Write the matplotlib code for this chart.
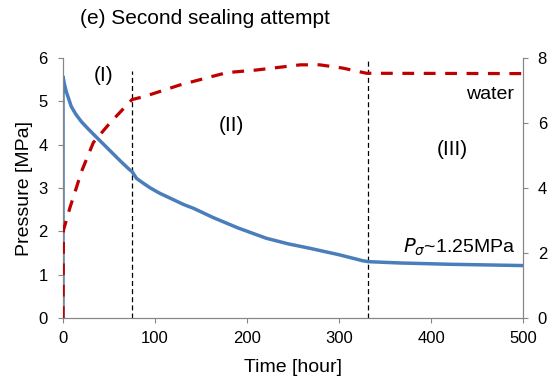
import numpy as np
import matplotlib
matplotlib.use("Agg")
import matplotlib.pyplot as plt

plt.rcParams['font.family'] = ['Liberation Sans', 'DejaVu Sans']

# Pressure (left axis, MPa)
p_time = [0, 0.01, 1.5, 3.6, 9, 14, 20, 28, 36, 45, 54, 63, 72, 75, 80, 88, 95, 105, 118,
          131, 142, 163, 190, 221, 245, 268, 300, 326, 332, 366, 420, 500]
p_vals = [0, 5.57, 5.4, 5.22, 4.88, 4.7, 4.53, 4.35, 4.18, 3.99, 3.80, 3.61, 3.43, 3.38,
          3.22, 3.1, 3.0, 2.88, 2.75, 2.62, 2.53, 2.32, 2.08, 1.84, 1.71, 1.61, 1.46, 1.32,
          1.30, 1.27, 1.24, 1.21]

# Water (right axis)
w_time = [0, 0.5, 7.6, 15, 20, 33, 51, 73, 75, 89, 127, 178, 210, 258, 279, 304, 330, 500]
w_vals = [0, 2.7, 3.4, 4.05, 4.5, 5.4, 6.0, 6.66, 6.72, 6.82, 7.17, 7.55, 7.63, 7.79,
          7.79, 7.69, 7.53, 7.52]

vlines = [75, 332]
vline_tops = [5.7, 6.0]

xticks = [0, 100, 200, 300, 400, 500]
yticks_left = [0, 1, 2, 3, 4, 5, 6]
yticks_right = [0, 2, 4, 6, 8]

fig = plt.figure(figsize=(5.49, 3.85), dpi=100)
ax = fig.add_axes([63/549, 1-318/385, (523-63)/549, (318-58)/385])
ax2 = ax.twinx()

gray = '#868686'
for a in (ax, ax2):
    for s in a.spines.values():
        s.set_color(gray)
    a.spines['top'].set_visible(False)
    a.tick_params(colors=gray, labelcolor='black', labelsize=12, length=3.6, direction='out')
ax.tick_params(axis='y', pad=7.5)
ax.tick_params(axis='x', pad=6)
ax2.tick_params(axis='y', pad=7)

ax.plot(p_time, p_vals, color='#4a7ebb', lw=2.5, zorder=3)
ax2.plot(w_time, w_vals, color='#c00000', lw=2.3, dashes=(3.7, 3.0), zorder=3)

for x, top in zip(vlines, vline_tops):
    ax.plot([x, x], [0, top], color='black', lw=0.9, dashes=(4, 2.5))

ax.set_xlim(0, 500)
ax.set_ylim(0, 6)
ax2.set_ylim(0, 8)
ax.set_xticks(xticks)
ax.set_yticks(yticks_left)
ax2.set_yticks(yticks_right)

ax.set_xlabel('Time [hour]', fontsize=14, labelpad=9)
ax.set_ylabel('Pressure [MPa]', fontsize=14, labelpad=4)

ax.text(44, 5.6, '(I)', fontsize=15, ha='center', va='center')
ax.text(183, 4.45, '(II)', fontsize=15, ha='center', va='center')
ax.text(423, 3.9, '(III)', fontsize=15, ha='center', va='center')
ax.text(490, 5.15, 'water', fontsize=14, ha='right', va='center')
ax.text(492, 1.62, r'$P_\sigma$~1.25MPa', fontsize=14, ha='right', va='center')

fig.text(80/549, 1-19/385, '(e) Second sealing attempt', fontsize=15, ha='left', va='center')

fig.savefig('out.png', dpi=100)
